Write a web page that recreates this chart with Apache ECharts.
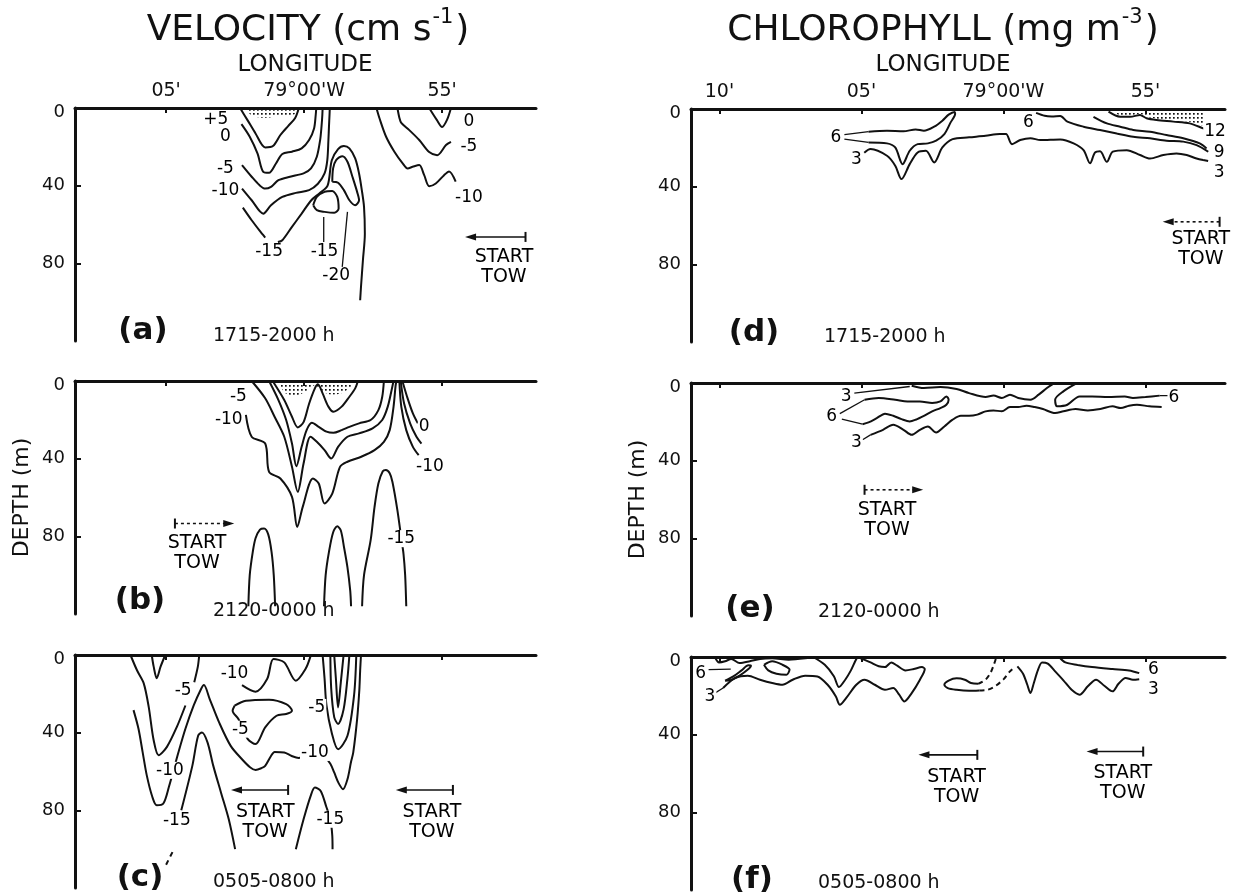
<!DOCTYPE html>
<html><head><meta charset="utf-8">
<script src="https://cdn.jsdelivr.net/npm/echarts@6/dist/echarts.min.js"></script>
<style>html,body{margin:0;background:#fff}#c{width:1242px;height:896px}</style>
</head><body><div id="c"></div>
<script>
// Longitude is in minutes east of 79°00'W (negative = west), depth in metres.
const depthTicks = [0, 40, 80];
const velLonTicks = [-5, 0, 5];
const chlLonTicks = [-10, -5, 0, 5];
const lonTickNames = { '-10': "10'", '-5': "05'", '0': "79°00'W", '5': "55'" };

// ---- (a) velocity 1715-2000 h
const velA_p5 = [[-2.32,0],[-2.04,6.5],[-1.76,13.1],[-1.41,20.3],[-1.13,19.6],[-0.86,13.9],[-0.58,9.3],[-0.33,5.3],[-0.19,0]];
const velA_0 = [[-2.27,8.3],[-1.97,14.8],[-1.69,23.4],[-1.48,32.9],[-1.27,33.4],[-1.02,28.6],[-0.79,23.7],[-0.44,22.5],[-0.09,20.8],[0.18,16.5],[0.36,10.5],[0.42,3.6],[0.44,0]];
const velA_m5 = [[-2.25,29.4],[-1.90,35.4],[-1.62,39.7],[-1.41,41.5],[-1.20,40.6],[-0.93,37.2],[-0.51,35.4],[-0.02,33.7],[0.25,31.1],[0.46,25.1],[0.58,16.5],[0.63,9.6],[0.66,3.6],[0.67,0]];
const velA_m10 = [[-2.25,41.5],[-1.90,47.5],[-1.48,54.4],[-1.20,50.1],[-0.79,45.8],[-0.30,43.7],[0.18,42.3],[0.5,39],[0.74,33.7],[0.84,26.8],[0.88,16.5],[0.9,9.6],[0.92,3.6],[0.93,0]];
const velA_m15a = [[-2.22,51.3],[-1.90,57.8],[-1.62,63.0],[-1.41,66.7]];
const velA_m15b = [[-0.95,69],[-0.79,68.1],[-0.44,61.2],[-0.09,54.4],[0.26,47.5],[0.55,44],[0.85,40],[1.0,27],[1.23,21.2],[1.44,19.6],[1.64,20.8],[1.85,26.0],[1.99,33.7],[2.09,42.3],[2.17,50.9],[2.2,64.7],[2.13,78.4],[2.06,92.2],[2.03,99]];
const velA_m20 = [[1.02,38],[1.05,31.1],[1.16,26.8],[1.39,24.8],[1.57,27.7],[1.75,35.4],[1.92,43.2],[1.99,47.5],[1.85,50.1],[1.64,47.5],[1.44,42.3],[1.23,38.5],[1.02,38]];
const velA_loop = [[0.33,50.1],[0.46,45.8],[0.74,43.2],[1.02,42.8],[1.2,45.8],[1.25,51.8],[1.09,54.0],[0.74,53.5],[0.46,52.6],[0.33,50.1]];
const velA_lead1 = [[0.71,56.1],[0.71,69.0]];
const velA_lead2 = [[1.57,53.5],[1.38,82]];
const velA_r0 = [[4.53,0],[4.8,6],[5.0,9.8],[5.18,6],[5.32,0]];
const velA_rm5 = [[3.38,0],[3.45,5],[3.52,7.7],[3.81,11.4],[4.17,16.5],[4.53,22.7],[4.82,24.3],[5.14,19.1],[5.32,17.5]];
const velA_rm10 = [[2.62,0],[2.73,5.3],[2.97,14.8],[3.27,22.5],[3.57,28.5],[3.75,31.1],[3.93,30.3],[4.17,29.4],[4.35,34.6],[4.53,40.3],[4.77,38.9],[5.07,34.6],[5.25,32.7],[5.49,37.9]];
const velA_dots = [[-2.1,0],[-1.9,4],[-1.4,5],[-0.8,4],[-0.3,3],[-0.2,0]];
const velA_labels = [[-3.2,6.2,'+5'],[-2.85,14.8,'0'],[-2.85,31,'-5'],[-2.85,42.3,'-10'],[-1.27,74.1,'-15'],[0.74,74.1,'-15'],[1.16,86.2,'-20'],[5.97,7,'0'],[5.97,20,'-5'],[5.97,46,'-10']];

// ---- (b) velocity 2120-0000 h
const velB_1 = [[-1.14,0],[-0.72,9.8],[-0.44,18.4],[-0.23,23.9],[-0.02,21.2],[0.18,11.7],[0.39,3.8],[0.5,1.7],[0.67,6.4],[0.88,13.2],[1.06,15.8],[1.36,13.2],[1.64,8.1],[1.85,3.8],[1.95,0]];
const velB_2 = [[-1.27,0],[-0.93,9.8],[-0.65,20.1],[-0.44,32.2],[-0.28,43.9],[-0.09,33.9],[0.09,25.3],[0.28,21.5],[0.53,23.6],[0.81,26.1],[1.06,26.7],[1.36,25.3],[1.64,23.6],[1.99,21.8],[2.41,20.1],[2.69,15.0],[2.83,8.1],[2.89,0]];
const velB_m5 = [[-1.90,0],[-1.41,8.9],[-1.07,18.4],[-0.72,28.7],[-0.44,44.2],[-0.23,57.1],[-0.02,42.5],[0.23,28.7],[0.46,31.3],[0.74,35.6],[0.98,39.9],[1.23,33.9],[1.57,28.7],[1.99,27.0],[2.48,24.4],[2.83,20.1],[3.03,13.2],[3.17,4.6],[3.24,0]];
const velB_m10 = [[-2.11,17.5],[-1.90,28.7],[-1.41,32.2],[-1.27,46.8],[-0.86,50.2],[-0.44,59.7],[-0.25,75.2],[-0.05,64.8],[0.32,50.2],[0.53,52.8],[0.74,63.1],[1.02,58.0],[1.30,44.2],[1.57,41.6],[2.07,39.0],[2.55,35.6],[2.89,31.3],[3.10,25.3],[3.24,13.2],[3.31,2.9],[3.34,0]];
const velB_r0 = [[3.56,0],[3.73,8.1],[3.94,16.7],[4.12,21.8]];
const velB_r5 = [[3.50,0],[3.62,11.5],[3.84,21.8],[4.07,28.7],[4.25,32.2]];
const velB_r10 = [[3.45,0],[3.52,13.2],[3.70,25.3],[3.94,33.9],[4.15,38.2]];
const velB_p1 = [[-2.02,116],[-1.97,100],[-1.86,88],[-1.76,81],[-1.6,76.5],[-1.45,76],[-1.3,79],[-1.18,88],[-1.10,100],[-1.05,116]];
const velB_p2 = [[0.72,116],[0.78,100],[0.9,88],[1.05,78],[1.2,74.8],[1.33,77],[1.45,86],[1.57,96],[1.67,108],[1.7,116]];
const velB_p3 = [[2.1,116],[2.17,100],[2.41,82],[2.55,65],[2.69,52.8],[2.85,46.5],[2.96,45.9],[3.1,47.5],[3.2,52],[3.38,66.6],[3.52,81],[3.6,89],[3.66,100],[3.7,116]];
const velB_dots = [[-0.95,0],[-0.7,6],[-0.3,7.5],[0.1,5],[0.4,2],[0.6,5],[1.0,7],[1.4,6],[1.75,2.5],[1.9,0]];
const velB_labels = [[-2.38,8.1,'-5'],[-2.73,20.1,'-10'],[4.35,23.6,'0'],[4.56,44.2,'-10'],[3.52,81.2,'-15']];

// ---- (c) velocity 0505-0800 h
const velC_v = [[-5.52,0],[-5.45,6],[-5.34,12.0],[-5.2,6],[-5.03,0]];
const velC_m5a = [[-6.29,0],[-6.05,8],[-5.81,14.6],[-5.63,26.7],[-5.45,43.9],[-5.27,51.6],[-4.97,47.3],[-4.61,37.0],[-4.3,26]];
const velC_m5b = [[-3.98,14],[-3.85,6],[-3.8,0]];
const velC_m10 = [[-6.18,28.4],[-6.0,38],[-5.85,50],[-5.7,62],[-5.5,73],[-5.34,77.4],[-5.1,76.5],[-4.9,68],[-4.55,50],[-4.3,38],[-4.0,26],[-3.75,18],[-3.63,15.5],[-3.42,22.7],[-3.08,34.7],[-2.66,46.8],[-2.25,53.7],[-1.96,57.8],[-1.76,59.2],[-1.55,58.3],[-1.41,57.1],[-1.2,52],[-1.07,49.9],[-0.72,50.2],[-0.45,52.0],[-0.2,53],[0.39,50.2],[0.75,52.5],[0.95,56],[1.09,60.5],[1.25,66],[1.41,69.1],[1.57,64.0],[1.7,55],[1.78,50.2],[1.92,33.0],[2.0,18],[2.03,8],[2.06,0]];
const velC_m15a = [[-5.0,108],[-4.75,101]];
const velC_m15b = [[-4.45,80],[-4.05,57.1],[-3.84,41.6],[-3.70,39.9],[-3.5,45],[-3.29,57.1],[-3.01,70.9],[-2.73,84.6],[-2.5,100]];
const velC_m15c = [[-0.3,100],[-0.02,84.6],[0.25,72],[0.39,68.3],[0.6,70],[0.8,78],[0.95,84.6],[1.02,93],[1.03,100]];
const velC_w = [[-2.25,15.5],[-1.76,18.9],[-1.34,12.4],[-1.11,2.1],[-0.72,3.8],[-0.30,13.2],[0.05,7.2],[0.23,0.7]];
const velC_loop = [[-2.52,26.1],[-2.11,23.6],[-1.27,23.0],[-0.65,25.3],[-0.44,28.7],[-0.65,30.4],[-1.0,31.3],[-1.41,37.3],[-1.76,45.9],[-2.04,43.3],[-2.38,33.0],[-2.59,28.7],[-2.52,26.1]];
const velC_r1 = [[1.09,0],[1.15,12],[1.23,27.0],[1.33,14],[1.43,0]];
const velC_r2 = [[0.95,0],[0.98,17],[1.09,32],[1.23,35.5],[1.43,28],[1.57,12],[1.64,0]];
const velC_r3 = [[0.67,0],[0.74,12],[0.81,26],[1.0,40],[1.23,48.5],[1.57,41.6],[1.81,20.6],[1.89,0]];
const velC_labels = [[-4.38,18.1,'-5'],[-4.86,59.4,'-10'],[-4.61,85.1,'-15'],[-2.52,9.8,'-10'],[-2.31,38.2,'-5'],[0.46,27,'-5'],[0.39,50.2,'-10'],[0.95,84.6,'-15']];

// ---- (d) chlorophyll 1715-2000 h
const chlD_6 = [[-4.75,11.7],[-4.10,11.2],[-3.52,11.5],[-3.09,10.5],[-2.80,11.2],[-2.44,9.1],[-2.15,6.0],[-1.93,2.9],[-1.72,1.5],[-1.70,2.5],[-1.86,6.9],[-2.08,12.9],[-2.37,16.3],[-2.66,17.7],[-3.02,18.1],[-3.30,21.5],[-3.55,28.4],[-3.81,19.8],[-4.10,17.7],[-4.75,17.2]];
const chlD_3 = [[-4.9,22.5],[-4.68,20.6],[-4.10,24.1],[-3.81,29.2],[-3.59,36.1],[-3.30,28.4],[-3.02,22.4],[-2.73,21.5],[-2.44,27.5],[-2.15,19.8],[-1.79,15.5],[-1.21,14.6],[-0.63,13.8],[-0.13,12.9],[0.09,12.9],[0.30,18.1],[0.59,16.0],[0.95,15.0],[1.30,16.0],[2.0,15.7],[2.47,17.7],[2.82,21.2],[3.05,28.0],[3.22,22.5],[3.40,21.8],[3.64,27.2],[3.85,22.0],[4.34,21.2],[4.81,23.7],[5.16,25.5],[5.63,23.7],[6.09,22.9],[6.45,23.7],[6.80,25.5],[7.03,26.3]];
const chlD_3tail = [[7.03,26.3],[7.3,27]];
const chlD_6r = [[1.15,2.0],[1.45,3.5],[1.7,3.8],[2.0,3.6],[2.25,6.5],[2.82,9.1],[3.40,10.8],[3.99,12.6],[4.57,14.3],[5.16,15.1],[5.74,16.3],[6.33,16.8],[6.80,18.6],[7.21,22.0]];
const chlD_9 = [[3.17,4.0],[3.64,7.4],[4.11,9.1],[4.57,10.8],[5.16,11.7],[5.74,13.4],[6.33,15.1],[6.91,17.7],[7.15,20.3]];
const chlD_12 = [[3.70,1.4],[4.11,4.0],[4.46,4.0],[4.81,3.1],[5.04,4.8],[5.39,5.7],[5.98,6.5],[6.56,7.4],[7.03,10.0],[7.2,11]];
const chlD_dots = [[3.75,0],[4.11,3.2],[4.46,3.2],[4.81,2.5],[5.04,4.0],[5.39,5.0],[5.98,5.8],[6.56,6.6],[7.0,8.5],[7.05,0]];
const chlD_lead1 = [[-5.6,13.2],[-4.75,11.7]];
const chlD_lead2 = [[-5.6,15.5],[-4.75,17.2]];
const chlD_labels = [[-5.9,14.6,'6'],[-5.18,25.8,'3'],[0.88,6.9,'6'],[7.45,11.5,'12'],[7.59,22.4,'9'],[7.59,32.7,'3']];

// ---- (e) chlorophyll 2120-0000 h
const chlE_3u = [[-3.23,1.4],[-2.80,2.6],[-2.22,2.1],[-1.65,3.1],[-1.21,5.2],[-0.63,7.2],[-0.35,6.5],[-0.06,7.7],[0.23,6.0],[0.52,7.7],[0.95,8.6],[1.24,6.0],[1.53,2.6],[1.75,0.5]];
const chlE_6r = [[2.54,0.5],[2.11,4.3],[1.82,8.6],[1.89,12.0],[2.25,11.2],[2.68,6.9],[3.12,6.9],[3.69,7.2],[4.27,6.9],[4.56,7.7],[5.0,7.2],[5.50,6.5]];
const chlE_6l = [[-4.89,8.6],[-4.39,7.7],[-3.81,8.6],[-3.38,9.5],[-2.94,9.5],[-2.51,10.3],[-2.22,9.5],[-2.01,6.9],[-1.93,8.6],[-2.01,11.2],[-2.22,12.9],[-2.51,14.6],[-2.80,16.9],[-3.09,18.9],[-3.30,19.8],[-3.59,18.6],[-3.88,16.9],[-4.17,15.8],[-4.46,18.1],[-4.75,20.3],[-4.96,21.2]];
const chlE_3l = [[-4.68,26.7],[-4.24,24.1],[-3.88,21.5],[-3.52,24.1],[-3.23,26.7],[-2.94,24.1],[-2.66,22.4],[-2.37,25.5],[-2.08,22.4],[-1.79,18.9],[-1.50,16.9],[-1.21,16.9],[-0.92,16.3],[-0.63,14.6],[-0.35,14.1],[-0.06,14.6],[0.23,12.4],[0.52,12.4],[0.81,11.7],[1.10,12.4],[1.39,13.4],[1.82,15.5],[2.11,14.6],[2.54,13.4],[2.97,14.1],[3.41,13.4],[3.84,12.0],[4.13,12.9],[4.42,11.7],[4.70,11.2],[5.14,12.0],[5.57,12.4]];
const chlE_leads = [[[-5.25,5.2],[-3.3,1.8]],[[-5.76,15.8],[-4.89,8.6]],[[-5.69,18.6],[-4.96,21.2]],[[-4.96,29.2],[-4.68,26.7]],[[5.5,6.5],[5.8,6.5]]];
const chlE_labels = [[-5.54,6.9,'3'],[-6.05,17.2,'6'],[-5.18,30.6,'3'],[6.0,7.7,'6']];

// ---- (f) chlorophyll 0505-0800 h
const chlF_top = [[-10.16,0],[-10.01,2.8],[-9.80,2.2],[-9.58,1.0],[-9.29,3.1],[-8.93,2.2],[-8.57,1.0],[-8.14,0.7],[-7.56,1.4],[-6.98,0.7],[-6.77,0]];
const chlF_ell1 = [[-9.80,12.2],[-9.51,10.0],[-9.22,6.9],[-8.98,4.3],[-8.89,4.5],[-9.0,6.5],[-9.29,9.6],[-9.61,12.0],[-9.80,12.2]];
const chlF_ell2 = [[-8.43,4.0],[-8.14,2.2],[-7.78,4.0],[-7.53,6.5],[-7.64,9.1],[-7.99,8.6],[-8.28,6.9],[-8.43,4.0]];
const chlF_6v = [[-6.70,0],[-6.29,4.0],[-5.97,9.9],[-5.79,15.5],[-5.57,11.7],[-5.37,6.9],[-5.22,2.2],[-5.14,0]];
const chlF_3 = [[-9.87,16.0],[-9.44,10.8],[-9.0,9.6],[-8.57,11.7],[-8.14,13.4],[-7.78,14.3],[-7.42,11.7],[-6.98,9.6],[-6.55,10.0],[-6.19,14.3],[-5.90,20.3],[-5.76,24.6],[-5.54,21.2],[-5.18,14.3],[-4.89,11.7],[-4.53,14.3],[-4.17,16.9],[-3.88,16.0],[-3.67,19.4],[-3.49,22.9],[-3.23,18.6],[-2.94,11.7],[-2.77,6.2],[-2.87,5.2],[-3.16,6.2],[-3.45,6.9],[-3.74,4.5],[-3.95,2.8],[-4.17,5.2],[-4.39,4.8],[-4.68,2.8],[-4.96,1.0],[-5.18,0]];
const chlF_mid = [[-0.89,13.8],[-1.14,13.4],[-1.36,11.7],[-1.65,11.0],[-1.93,12.2],[-2.08,14.3],[-1.96,16.0],[-1.65,16.9],[-1.21,17.4],[-0.85,17.2]];
const chlF_dashU = [[-0.89,13.8],[-0.63,11.7],[-0.46,8.3],[-0.35,4.5],[-0.27,1.0]];
const chlF_dashL = [[-0.85,17.2],[-0.56,16.9],[-0.27,14.8],[0.01,11.4],[0.23,7.4],[0.40,5.2]];
const chlF_3r = [[0.49,4.8],[0.69,8.6],[0.84,14.3],[0.95,18.6],[1.07,13.4],[1.21,6.9],[1.36,2.8],[1.56,3.4],[1.82,7.4],[2.11,12.0],[2.40,16.9],[2.68,19.4],[2.97,15.1],[3.26,11.7],[3.55,14.8],[3.84,17.7],[4.05,13.8],[4.30,10.8],[4.56,11.7],[4.78,11.4]];
const chlF_6r = [[1.96,0],[2.18,2.8],[2.61,4.1],[3.12,5.2],[3.84,6.2],[4.42,6.9],[4.78,8.3]];
const chlF_leads = [[[-10.38,6.5],[-9.6,6.2]],[[-10.16,18.6],[-9.87,16.0]]];
const chlF_labels = [[-10.66,8.6,'6'],[-10.33,20.3,'3'],[5.28,6.5,'6'],[5.28,16.9,'3']];

// START TOW markers: [panel, bar lon, tip lon, depth, dashed, text lon, text depth]
const towMarks = [
  [0, 8.02, 6.03, 66.4, false, 7.24, 82],
  [1, -4.68, -2.73, 73.4, true, -3.88, 88.5],
  [2, -0.58, -2.45, 69.5, false, -1.41, 86],
  [2, 5.39, 3.52, 69.5, false, 4.63, 86],
  [3, 7.61, 5.80, 58.1, true, 6.95, 72],
  [4, -4.89, -3.02, 55.0, true, -4.10, 70.5],
  [5, -0.92, -2.80, 50.4, false, -1.65, 66.8],
  [5, 4.92, 3.12, 48.7, false, 4.2, 65]
];

const FONT = "'DejaVu Sans', 'Liberation Sans', sans-serif";
const INK = '#111';

const panelLayout = [
  { left: 75, top: 108, width: 461, lon: [-8.3, 8.4], ticks: velLonTicks, lonLabels: true, depthName: false },
  { left: 75, top: 381, width: 461, lon: [-8.3, 8.4], ticks: velLonTicks, lonLabels: false, depthName: true },
  { left: 75, top: 655, width: 461, lon: [-8.3, 8.4], ticks: velLonTicks, lonLabels: false, depthName: false },
  { left: 691, top: 109, width: 534, lon: [-11, 7.8], ticks: chlLonTicks, lonLabels: true, depthName: false },
  { left: 691, top: 383, width: 534, lon: [-11, 7.8], ticks: chlLonTicks, lonLabels: false, depthName: true },
  { left: 691, top: 657, width: 534, lon: [-11, 7.8], ticks: chlLonTicks, lonLabels: false, depthName: false }
];

// stipple fill
const dotTile = document.createElement('canvas');
dotTile.width = 4; dotTile.height = 4;
(function () { const c = dotTile.getContext('2d'); c.fillStyle = '#111'; c.fillRect(1, 1, 1.7, 1.7); })();

function contour(g, pts, dashed) {
  return { type: 'line', xAxisIndex: g, yAxisIndex: g, data: pts, showSymbol: false, smooth: 0.3,
    silent: true, z: 3, animation: false,
    lineStyle: { color: INK, width: 2, type: dashed ? [5, 4] : 'solid' } };
}
function leader(g, pts) {
  return { type: 'line', xAxisIndex: g, yAxisIndex: g, data: pts, showSymbol: false, silent: true, z: 3, animation: false,
    lineStyle: { color: INK, width: 1.3 } };
}
function stipple(g, pts) {
  return { type: 'line', xAxisIndex: g, yAxisIndex: g, data: pts, showSymbol: false, smooth: 0.3, silent: true, z: 2,
    animation: false, lineStyle: { width: 0 }, areaStyle: { color: { image: dotTile, repeat: 'repeat' }, opacity: 1 } };
}
const textLabel = { show: true, position: 'inside', color: '#000', fontFamily: FONT, textBorderWidth: 0, opacity: 1 };
function labels(g, list) {
  return { type: 'scatter', xAxisIndex: g, yAxisIndex: g, symbolSize: 0, silent: true, z: 6, animation: false,
    itemStyle: { color: INK },
    label: Object.assign({}, textLabel, { fontSize: 17, backgroundColor: '#fff', padding: [0, 1] }),
    data: list.map(([x, y, t]) => ({ value: [x, y], label: { formatter: t } })) };
}
function towSeries(m) {
  const [g, bar, tip, d, dashed, tx, ty] = m;
  return [
    { type: 'line', xAxisIndex: g, yAxisIndex: g, silent: true, z: 4, animation: false, showSymbol: true, showAllSymbol: true,
      lineStyle: { color: INK, width: 1.6, type: dashed ? [3, 3] : 'solid' },
      itemStyle: { color: INK },
      data: [
        { value: [bar, d], symbol: 'rect', symbolSize: [2, 10] },
        { value: [tip, d], symbol: 'triangle', symbolSize: [7, 11], symbolRotate: tip < bar ? 90 : -90 }
      ] },
    { type: 'scatter', xAxisIndex: g, yAxisIndex: g, symbolSize: 0, silent: true, z: 6, animation: false,
      itemStyle: { color: INK },
      label: Object.assign({}, textLabel, { formatter: 'START\nTOW', fontSize: 19, lineHeight: 20 }),
      data: [[tx, ty]] }
  ];
}

const series = [
  stipple(0, velA_dots),
  contour(0, velA_p5), contour(0, velA_0), contour(0, velA_m5), contour(0, velA_m10),
  contour(0, velA_m15a), contour(0, velA_m15b), contour(0, velA_m20), contour(0, velA_loop),
  leader(0, velA_lead1), leader(0, velA_lead2),
  contour(0, velA_r0), contour(0, velA_rm5), contour(0, velA_rm10),
  labels(0, velA_labels),

  stipple(1, velB_dots),
  contour(1, velB_1), contour(1, velB_2), contour(1, velB_m5), contour(1, velB_m10),
  contour(1, velB_r0), contour(1, velB_r5), contour(1, velB_r10),
  contour(1, velB_p1), contour(1, velB_p2), contour(1, velB_p3),
  labels(1, velB_labels),

  contour(2, velC_v), contour(2, velC_m5a), contour(2, velC_m5b), contour(2, velC_m10),
  contour(2, velC_m15a, true), contour(2, velC_m15b), contour(2, velC_m15c),
  contour(2, velC_w), contour(2, velC_loop), contour(2, velC_r1), contour(2, velC_r2), contour(2, velC_r3),
  labels(2, velC_labels),

  stipple(3, chlD_dots),
  contour(3, chlD_6), contour(3, chlD_3), contour(3, chlD_3tail, true), contour(3, chlD_6r), contour(3, chlD_9), contour(3, chlD_12),
  leader(3, chlD_lead1), leader(3, chlD_lead2),
  labels(3, chlD_labels),

  contour(4, chlE_3u), contour(4, chlE_6r), contour(4, chlE_6l), contour(4, chlE_3l),
  ...chlE_leads.map(p => leader(4, p)),
  labels(4, chlE_labels),

  contour(5, chlF_top), contour(5, chlF_ell1), contour(5, chlF_ell2), contour(5, chlF_6v), contour(5, chlF_3),
  contour(5, chlF_mid), contour(5, chlF_dashU, true), contour(5, chlF_dashL, true), contour(5, chlF_3r), contour(5, chlF_6r),
  ...chlF_leads.map(p => leader(5, p)),
  labels(5, chlF_labels),

  ...towMarks.flatMap(towSeries)
];

const grid = panelLayout.map(p => ({ left: p.left, top: p.top, width: p.width, height: 233, containLabel: false }));
const xAxis = panelLayout.map((p, i) => ({
  type: 'value', gridIndex: i, position: 'top', min: p.lon[0], max: p.lon[1],
  axisLine: { show: true, onZero: false, lineStyle: { color: INK, width: 3 } },
  axisTick: { show: true, inside: true, length: 5, customValues: p.ticks, lineStyle: { color: INK, width: 2 } },
  axisLabel: { show: p.lonLabels, customValues: p.ticks, formatter: v => lonTickNames[String(v)] || '',
    margin: 7, fontSize: 19, color: INK, fontFamily: FONT },
  splitLine: { show: false }
}));
const yAxis = panelLayout.map((p, i) => ({
  type: 'value', gridIndex: i, inverse: true, min: 0, max: 120,
  axisLine: { show: true, onZero: false, lineStyle: { color: INK, width: 3 } },
  axisTick: { show: true, inside: true, length: 6, customValues: depthTicks, lineStyle: { color: INK, width: 2 } },
  axisLabel: { customValues: depthTicks, fontSize: 18, margin: 10, color: INK, fontFamily: FONT,
    formatter: v => (v === 0 ? '{z|0}' : String(v)),
    rich: { z: { fontSize: 18, fontFamily: FONT, color: INK, padding: [9, 0, 0, 0] } } },
  splitLine: { show: false },
  name: p.depthName ? 'DEPTH (m)' : '', nameLocation: 'middle', nameGap: 42, nameRotate: 90,
  nameTextStyle: { fontSize: 22, color: INK, fontFamily: FONT }
}));

function txt(x, y, text, font, align) {
  return { type: 'text', x: x, y: y, silent: true,
    style: { text: text, fill: INK, font: font, textAlign: align || 'center', textVerticalAlign: 'middle' } };
}
function titleText(x, main, sup) {
  return { type: 'text', x: x, y: 28, silent: true,
    style: { text: '{m|' + main + '}{s|' + sup + '}{m|)}', textAlign: 'center', textVerticalAlign: 'middle',
      rich: { m: { fontSize: 36, fontFamily: FONT, fill: INK, lineHeight: 42, verticalAlign: 'bottom' },
              s: { fontSize: 21, fontFamily: FONT, fill: INK, lineHeight: 42, verticalAlign: 'top', padding: [0, 2, 0, 1] } } } };
}

const panelFont = 'bold 31px ' + FONT;
const timeFont = '19px ' + FONT;
const graphic = [
  titleText(308, 'VELOCITY (cm s', '-1'),
  titleText(943, 'CHLOROPHYLL (mg m', '-3'),
  txt(305, 65, 'LONGITUDE', '23px ' + FONT),
  txt(943, 65, 'LONGITUDE', '23px ' + FONT),
  txt(143, 331, '(a)', panelFont),
  txt(140, 601, '(b)', panelFont),
  txt(140, 878, '(c)', panelFont),
  txt(754, 333, '(d)', panelFont),
  txt(750, 609, '(e)', panelFont),
  txt(752, 880, '(f)', panelFont),
  txt(213, 336, '1715-2000 h', timeFont, 'left'),
  txt(213, 611, '2120-0000 h', timeFont, 'left'),
  txt(213, 882, '0505-0800 h', timeFont, 'left'),
  txt(824, 337, '1715-2000 h', timeFont, 'left'),
  txt(818, 612, '2120-0000 h', timeFont, 'left'),
  txt(818, 883, '0505-0800 h', timeFont, 'left')
];

const chart = echarts.init(document.getElementById('c'), null, { renderer: 'canvas' });
chart.setOption({ animation: false, backgroundColor: '#fff', grid, xAxis, yAxis, series, graphic });
</script></body></html>
